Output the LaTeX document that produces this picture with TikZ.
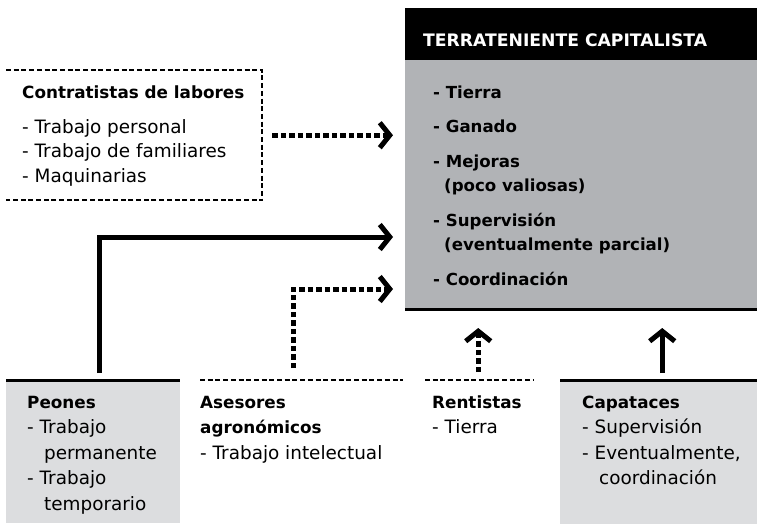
\documentclass[tikz,border=0pt]{standalone}
\usepackage{fontspec}
\setmainfont{DejaVu Sans}
\usetikzlibrary{arrows.meta, positioning}
\definecolor{mainGray}{RGB}{177,179,182}
\definecolor{lightGray}{RGB}{220,221,223}
\newcommand{\ind}{\hspace*{11pt}}
\newcommand{\indB}{\hspace*{17pt}}
\newcommand{\hb}[1]{{\fontsize{16.8}{24.5}\selectfont\bfseries #1}}
\newcommand{\hbB}[1]{{\fontsize{16.8}{25.5}\selectfont\bfseries #1}}

\begin{document}
\begin{tikzpicture}[x=1pt,y=-1pt,
    txt/.style={inner sep=0pt, anchor=north west, align=left, font=\fontsize{18.4}{24.5}\selectfont},
    txtB/.style={txt, font=\fontsize{18.4}{25.5}\selectfont},
    area/.style={inner sep=0pt, anchor=north west, minimum height=143},
    flow/.style={line width=5pt, -{Straight Barb[length=10pt,width=25pt]}},
    dotflow/.style={flow, dash pattern=on 5.5pt off 3pt},
    boxline/.style={line width=3pt},
    dashline/.style={line width=2pt, dash pattern=on 5pt off 2.7pt}]
    \useasboundingbox (0,0) rectangle (757,523);

    % Terrateniente capitalista
    \node[fill=mainGray, inner sep=0pt, anchor=north west, minimum width=352, minimum height=249] (terr) at (405,60) {};
    \node[fill=black, inner sep=0pt, anchor=south west, minimum width=352, minimum height=52] (head) at (terr.north west) {};
    \draw[boxline] (terr.south west) -- (terr.south east);
    \node[txt, text=white, font=\fontsize{17.2}{24.5}\selectfont\bfseries] (headtxt) at (423,28.85) {\strut TERRATENIENTE CAPITALISTA};
    \node[txt, font=\fontsize{16.6}{24.5}\selectfont\bfseries] (items) at (433,80.85) {\strut- Tierra\\[10pt]
        - Ganado\\[10pt]
        - Mejoras\\ \ind(poco valiosas)\\[10pt]
        - Supervisión\\ \ind(eventualmente parcial)\\[10pt]
        - Coordinación};

    % Contratistas de labores
    \node[inner sep=0pt, anchor=north west, minimum width=256, minimum height=130] (contr) at (6,70) {};
    \draw[dashline] (contr.north west) -- (contr.north east) -- (contr.south east) -- (contr.south west);
    \node[txt] (contrtxt) at (22,80.85) {\strut\hb{Contratistas de labores}\\[10.5pt]
        - Trabajo personal\\ - Trabajo de familiares\\ - Maquinarias};

    % Bottom row
    \node[area, fill=lightGray, minimum width=174] (peones) at (6,380) {};
    \node[area, minimum width=203] (asesores) at (200,380) {};
    \node[area, minimum width=108] (rentistas) at (425,380) {};
    \node[area, fill=lightGray, minimum width=197, minimum height=150] (capataces) at (560,380) {};
    \draw[boxline] (peones.north west) -- (peones.north east);
    \draw[dashline] (asesores.north west) -- (asesores.north east);
    \draw[dashline] (rentistas.north west) -- (rentistas.north east);
    \draw[boxline] (capataces.north west) -- (capataces.north east);

    \node[txtB] (peonestxt) at (27,390.15) {\strut\hbB{Peones}\\ - Trabajo\\ \indB permanente\\ - Trabajo\\ \indB temporario};
    \node[txtB] (asesorestxt) at (200,390.15) {\strut\hbB{Asesores}\\ \hbB{agronómicos}\\ - Trabajo intelectual};
    \node[txtB] (rentistastxt) at (432,390.15) {\strut\hbB{Rentistas}\\ - Tierra};
    \node[txtB] (capatacestxt) at (582,390.15) {\strut\hbB{Capataces}\\ - Supervisión\\ - Eventualmente,\\ \indB coordinación};

    % Connectors
    \coordinate (inContr) at ([xshift=-12]terr.west |- contr.east);
    \coordinate (inPeones) at ([xshift=-12]terr.west |- 0,237);
    \coordinate (inAses) at ([xshift=-12]terr.west |- 0,289);
    \coordinate (outRent) at ([xshift=-1]rentistas.north |- 0,328);
    \coordinate (outCapa) at ([xshift=3.5]capataces.north |- 0,328);
    \draw[dotflow] ([xshift=10]contr.east) -- (inContr);
    \draw[flow] ([xshift=6.5,yshift=7]peones.north) |- (inPeones);
    \draw[dotflow] ([xshift=-8.5,yshift=12]asesores.north) |- (inAses);
    \draw[dotflow] ([xshift=-1,yshift=8]rentistas.north) -- (outRent);
    \draw[flow] ([xshift=3.5,yshift=7]capataces.north) -- (outCapa);
\end{tikzpicture}
\end{document}
